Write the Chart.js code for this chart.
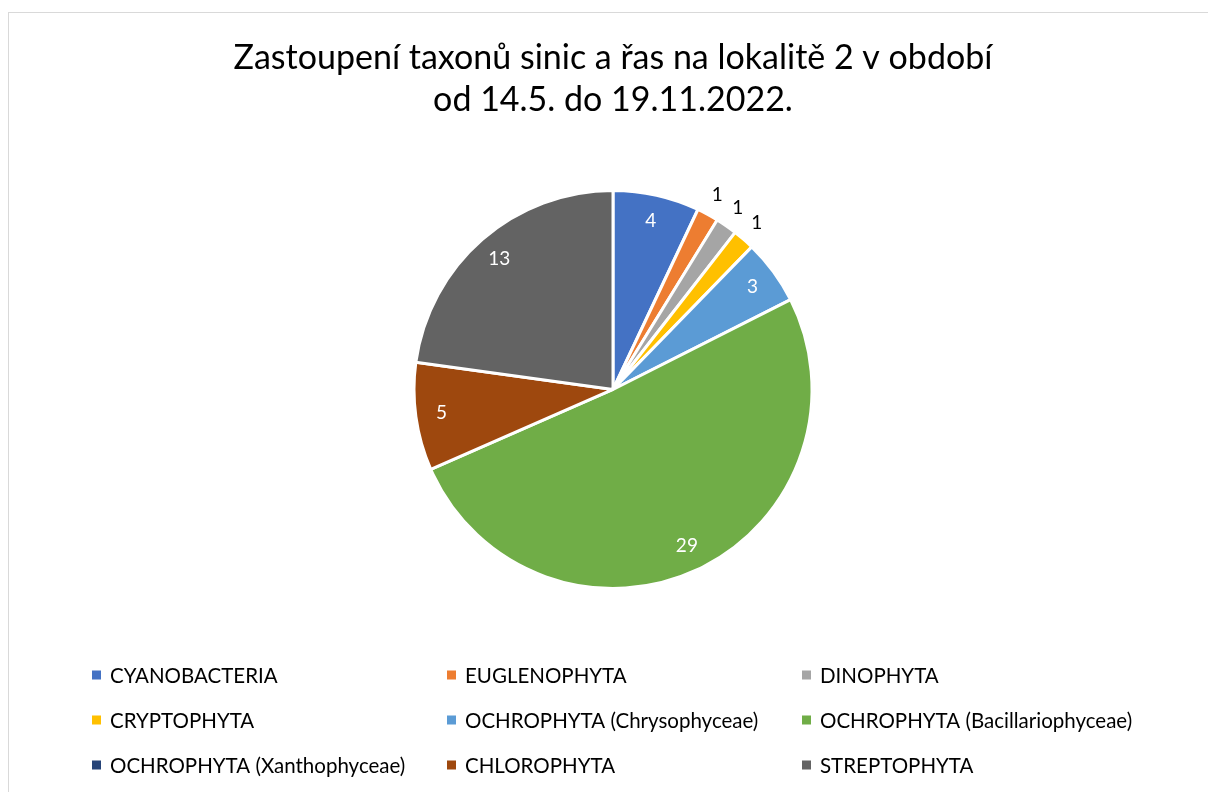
<!DOCTYPE html>
<html>
<head>
<meta charset="utf-8">
<script src="https://cdn.jsdelivr.net/npm/chart.js@4.4.1/dist/chart.umd.min.js"></script>
<style>
  html, body { margin: 0; padding: 0; background: #ffffff; }
  #wrap { position: absolute; left: 0; top: 0; width: 1208px; height: 792px; }
  #frame { position: absolute; left: 8px; top: 12px; width: 1210px; height: 800px; border: 1px solid #d9d9d9; box-sizing: border-box; pointer-events: none; }
</style>
</head>
<body>
<div id="wrap">
  <canvas id="c" width="1208" height="792"></canvas>
  <div id="frame"></div>
</div>
<script>
const titleLines = ["Zastoupení taxonů sinic a řas na lokalitě 2 v období", "od 14.5. do 19.11.2022."];
const categories = [
  "CYANOBACTERIA", "EUGLENOPHYTA", "DINOPHYTA",
  "CRYPTOPHYTA", "OCHROPHYTA (Chrysophyceae)", "OCHROPHYTA (Bacillariophyceae)",
  "OCHROPHYTA (Xanthophyceae)", "CHLOROPHYTA", "STREPTOPHYTA"
];
const taxonCounts = [4, 1, 1, 1, 3, 29, 0, 5, 13];
const sliceColors = ["#4472C4", "#ED7D31", "#A5A5A5", "#FFC000", "#5B9BD5", "#70AD47", "#264478", "#9E480E", "#636363"];
const FONT = "Lato, 'Liberation Sans', sans-serif";

const dataLabels = {
  id: 'dataLabels',
  afterDatasetsDraw(chart) {
    const ctx = chart.ctx;
    const meta = chart.getDatasetMeta(0);
    const total = taxonCounts.reduce((a, b) => a + b, 0);
    ctx.save();
    ctx.font = "19px " + FONT;
    ctx.textAlign = 'center';
    ctx.textBaseline = 'middle';
    meta.data.forEach((arc, i) => {
      const v = taxonCounts[i];
      if (!v) return;
      const p = arc.getProps(['x', 'y', 'startAngle', 'endAngle', 'outerRadius'], true);
      const mid = (p.startAngle + p.endAngle) / 2;
      const small = v / total < 0.03;
      const r = small ? p.outerRadius * 1.1 : p.outerRadius * 0.87;
      ctx.fillStyle = small ? '#000000' : '#ffffff';
      ctx.fillText(String(v), p.x + Math.cos(mid) * r, p.y + Math.sin(mid) * r - (small ? 2 : 0));
    });
    ctx.restore();
  }
};

const gridLegend = {
  id: 'gridLegend',
  afterDraw(chart) {
    const ctx = chart.ctx;
    const colX = [92, 447, 802];
    const rowY = [675, 720, 765];
    ctx.save();
    ctx.font = "20.5px " + FONT;
    ctx.textBaseline = 'middle';
    ctx.textAlign = 'left';
    categories.forEach((name, i) => {
      const x = colX[i % 3], y = rowY[Math.floor(i / 3)];
      ctx.fillStyle = sliceColors[i];
      ctx.fillRect(x, y - 4.5, 9, 9);
      ctx.fillStyle = '#000000';
      ctx.fillText(name, x + 18, y + 1);
    });
    ctx.restore();
  }
};

new Chart(document.getElementById('c'), {
  type: 'pie',
  data: {
    labels: categories,
    datasets: [{
      data: taxonCounts,
      backgroundColor: sliceColors,
      borderColor: '#ffffff',
      borderWidth: 3
    }]
  },
  options: {
    responsive: false,
    animation: false,
    layout: { padding: { left: 18, right: 0, top: 0, bottom: 202 } },
    plugins: {
      legend: { display: false },
      tooltip: { enabled: false },
      title: {
        display: true,
        text: titleLines,
        color: '#000000',
        font: { family: FONT, size: 34, weight: 'normal', lineHeight: 1.235 },
        padding: { top: 37, bottom: 68 }
      }
    }
  },
  plugins: [dataLabels, gridLegend]
});
</script>
</body>
</html>
